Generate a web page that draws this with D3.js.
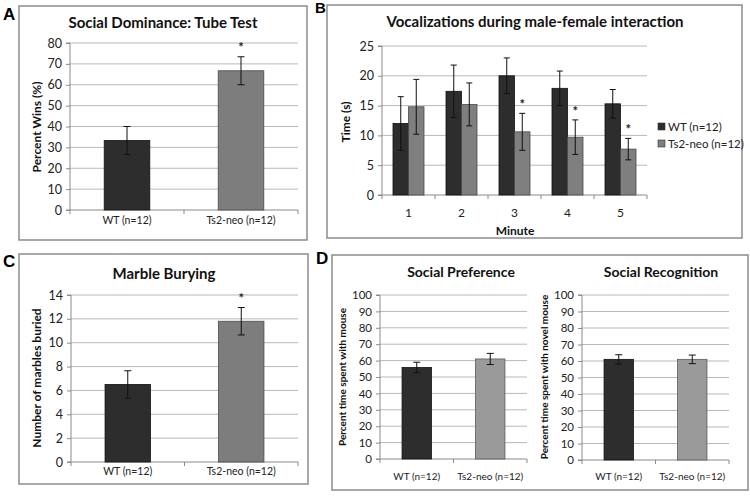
<!DOCTYPE html>
<html><head><meta charset="utf-8">
<script src="https://cdn.jsdelivr.net/npm/d3@7"></script>
<style>
body{margin:0;background:#fff;}
svg{display:block;font-family:Lato,"Open Sans",sans-serif;}
</style></head>
<body><svg id="c" width="750" height="496"></svg>
<script>
// ---- data ----
const groups = ["WT (n=12)", "Ts2-neo (n=12)"];
const legendLabels = ["WT  (n=12)", "Ts2-neo (n=12)"];
// A: Social Dominance: Tube Test
const tubeMeans = [33.3, 66.7];
const tubeErr = [6.7, 6.7];
const tubeStar = [false, true];
const tubeTicks = [0,10,20,30,40,50,60,70,80];
// B: Vocalizations
const minutes = ["1","2","3","4","5"];
const vocWT = [12.0, 17.4, 20.0, 17.9, 15.3];
const vocWTErr = [4.5, 4.4, 3.0, 2.9, 2.4];
const vocTs = [14.8, 15.2, 10.6, 9.7, 7.7];
const vocTsErr = [4.6, 3.6, 3.1, 2.9, 1.8];
const vocTsStar = [false, false, true, true, true];
const vocTicks = [0,5,10,15,20,25];
// C: Marble Burying
const marbleMeans = [6.5, 11.8];
const marbleErr = [1.15, 1.15];
const marbleStar = [false, true];
const marbleTicks = [0,2,4,6,8,10,12,14];
// D: Social preference / recognition
const prefMeans = [55.8, 61.0];
const prefErr = [3.2, 3.4];
const recogMeans = [61.0, 61.0];
const recogErr = [2.8, 2.6];
const pctTicks = [0,10,20,30,40,50,60,70,80,90,100];

const svg = d3.select("#c");
const GRID = "#b8b8b8", AXIS = "#8a8a8a", BOX = "#8c8c8c";
const DARK = "#2d2d2d";

function box(x0,y0,x1,y1){
  svg.append("rect").attr("x",x0).attr("y",y0).attr("width",x1-x0).attr("height",y1-y0)
    .attr("fill","none").attr("stroke",BOX).attr("stroke-width",1.5);
}
function letter(t,x,y,fs){
  svg.append("text").attr("x",x).attr("y",y).text(t)
    .style("font-family","Arial, 'Liberation Sans', sans-serif").style("font-weight","bold").style("font-size",(fs||17)+"px");
}
function title(t,x,y,fs){
  svg.append("text").attr("x",x).attr("y",y).attr("text-anchor","middle").text(t)
    .style("font-weight","bold").style("font-size",fs+"px").attr("fill","#111");
}
function ylab(t,x,y,fs){
  svg.append("text").attr("transform",`translate(${x},${y}) rotate(-90)`).attr("text-anchor","middle")
    .attr("dominant-baseline","middle").text(t).style("font-weight","bold").style("font-size",fs+"px").attr("fill","#111");
}

// generic frame: y axis, gridlines, x axis with boundary ticks
function frame(g, x, y, ticks, fs, cats, labFs, labY, showCatLabels){
  const [x0,x1] = x.range();
  const [yb,yt] = y.range();
  g.selectAll(".grid").data(ticks.filter(t=>t!==ticks[0])).enter().append("line")
    .attr("x1",x0).attr("x2",x1).attr("y1",d=>y(d)).attr("y2",d=>y(d))
    .attr("stroke",GRID).attr("stroke-width",1);
  const ya = d3.axisLeft(y).tickValues(ticks).tickSize(4).tickPadding(4);
  const yg = g.append("g").attr("transform",`translate(${x0},0)`).call(ya);
  yg.select(".domain").attr("stroke",AXIS).attr("d",`M-4,${yt}H0V${yb}H-4`);
  yg.selectAll(".tick line").attr("stroke",AXIS);
  yg.selectAll("text").style("font-size",fs+"px").style("font-family","Lato, sans-serif").attr("fill","#222");
  // x axis
  g.append("line").attr("x1",x0).attr("x2",x1).attr("y1",yb).attr("y2",yb).attr("stroke",AXIS);
  const bounds = cats.map(c=>x(c)-x.step()*x.paddingOuter()).concat([x1]);
  g.selectAll(".xt").data(bounds).enter().append("line")
    .attr("x1",d=>d).attr("x2",d=>d).attr("y1",yb).attr("y2",yb+4).attr("stroke",AXIS);
  if(showCatLabels){
    g.selectAll(".xl").data(cats).enter().append("text")
      .attr("x",d=>x(d)+x.bandwidth()/2).attr("y",labY).attr("text-anchor","middle")
      .text(d=>d).style("font-size",labFs+"px").attr("fill","#222");
  }
}
function errbar(g,cx,yv,e,y,cap){
  g.append("line").attr("x1",cx).attr("x2",cx).attr("y1",y(yv+e)).attr("y2",y(yv-e)).attr("stroke","#111").attr("stroke-width",1);
  [yv+e,yv-e].forEach(v=>g.append("line").attr("x1",cx-cap).attr("x2",cx+cap).attr("y1",y(v)).attr("y2",y(v)).attr("stroke","#111").attr("stroke-width",1));
}
function star(g,cx,yy){
  g.append("text").attr("x",cx).attr("y",yy).attr("text-anchor","middle").text("*")
    .style("font-size","13px").style("font-weight","bold").attr("fill","#222");
}

// two-group chart
function twoGroup(cfg){
  const g = svg.append("g");
  const x = d3.scaleBand().domain(groups).range([cfg.x0,cfg.x1]).paddingInner(0.6).paddingOuter(0.3);
  const y = d3.scaleLinear().domain([0,cfg.max]).range([cfg.yb,cfg.yt]);
  frame(g,x,y,cfg.ticks,cfg.tickFs,groups,cfg.labFs,cfg.labY,true);
  const fills=[DARK,cfg.tsFill], strokes=["#111",cfg.tsStroke];
  g.selectAll(".bar").data(cfg.means).enter().append("rect")
    .attr("x",(d,i)=>x(groups[i])).attr("width",x.bandwidth())
    .attr("y",d=>y(d)).attr("height",d=>y(0)-y(d))
    .attr("fill",(d,i)=>fills[i]).attr("stroke",(d,i)=>strokes[i]).attr("stroke-width",0.8);
  cfg.means.forEach((m,i)=>{
    const cx=x(groups[i])+x.bandwidth()/2;
    errbar(g,cx,m,cfg.err[i],y,3.5);
    if(cfg.star && cfg.star[i]) star(g,cx,y(m+cfg.err[i])-5);
  });
}

// ---- Panel A ----
box(19,6,307,240); letter("A",3,20);
title("Social Dominance: Tube Test",163,28,15);
ylab("Percent Wins (%)",38,127,12);
twoGroup({x0:70,x1:298,yt:43,yb:210,max:80,ticks:tubeTicks,tickFs:12.5,labFs:10.5,labY:224,
  means:tubeMeans,err:tubeErr,star:tubeStar,tsFill:"#7d7d7d",tsStroke:"#4a4a4a"});

// ---- Panel C ----
box(19,254,308,484); letter("C",3,267);
title("Marble Burying",164,279,15);
ylab("Number of marbles buried",38,378,12);
twoGroup({x0:71,x1:298,yt:295,yb:462,max:14,ticks:marbleTicks,tickFs:12.5,labFs:10.5,labY:475,
  means:marbleMeans,err:marbleErr,star:marbleStar,tsFill:"#7d7d7d",tsStroke:"#4a4a4a"});

// ---- Panel B ----
box(327,5,742,238); letter("B",315,13,15);
title("Vocalizations during male-female interaction",535,27,15);
ylab("Time (s)",347,122,12);
(function(){
  const g = svg.append("g");
  const x = d3.scaleBand().domain(minutes).range([382,647]).paddingInner(0).paddingOuter(0);
  const y = d3.scaleLinear().domain([0,25]).range([195,46]);
  frame(g,x,y,vocTicks,12.5,minutes,12,217,true);
  const bw = 15.5;
  const series=[{v:vocWT,e:vocWTErr,fill:DARK,stroke:"#111",off:-bw},{v:vocTs,e:vocTsErr,fill:"#7f7f7f",stroke:"#4a4a4a",off:0}];
  series.forEach((s,si)=>{
    g.selectAll(".b"+si).data(s.v).enter().append("rect")
      .attr("x",(d,i)=>x(minutes[i])+x.bandwidth()/2+s.off).attr("width",bw)
      .attr("y",d=>y(d)).attr("height",d=>y(0)-y(d))
      .attr("fill",s.fill).attr("stroke",s.stroke).attr("stroke-width",0.8);
    s.v.forEach((m,i)=>{
      const cx=x(minutes[i])+x.bandwidth()/2+s.off+bw/2;
      errbar(g,cx,m,s.e[i],y,3);
      if(si===1 && vocTsStar[i]) star(g,cx,y(m+s.e[i])-4);
    });
  });
  svg.append("text").attr("x",515).attr("y",235).attr("text-anchor","middle").text("Minute")
    .style("font-weight","bold").style("font-size","12px").attr("fill","#111");
  const lg = svg.append("g");
  [DARK,"#7f7f7f"].forEach((c,i)=>{
    lg.append("rect").attr("x",658).attr("y",123+i*17).attr("width",7).attr("height",7).attr("fill",c).attr("stroke","#333").attr("stroke-width",0.6);
    lg.append("text").attr("x",668).attr("y",131+i*17).text(legendLabels[i]).style("font-size","11.5px").attr("fill","#222");
  });
})();

// ---- Panel D ----
box(332,255,748,490); letter("D",316,264);
title("Social Preference",461,277,14);
title("Social Recognition",661,277,14);
ylab("Percent time spent with mouse",343,377,10);
ylab("Percent time spent with novel mouse",545,377,10);
twoGroup({x0:380,x1:527,yt:295,yb:459,max:100,ticks:pctTicks,tickFs:11.5,labFs:10,labY:480,
  means:prefMeans,err:prefErr,star:null,tsFill:"#9a9a9a",tsStroke:"#5a5a5a"});
twoGroup({x0:582,x1:729,yt:295,yb:460,max:100,ticks:pctTicks,tickFs:11.5,labFs:10,labY:480,
  means:recogMeans,err:recogErr,star:null,tsFill:"#9a9a9a",tsStroke:"#5a5a5a"});
</script></body></html>
